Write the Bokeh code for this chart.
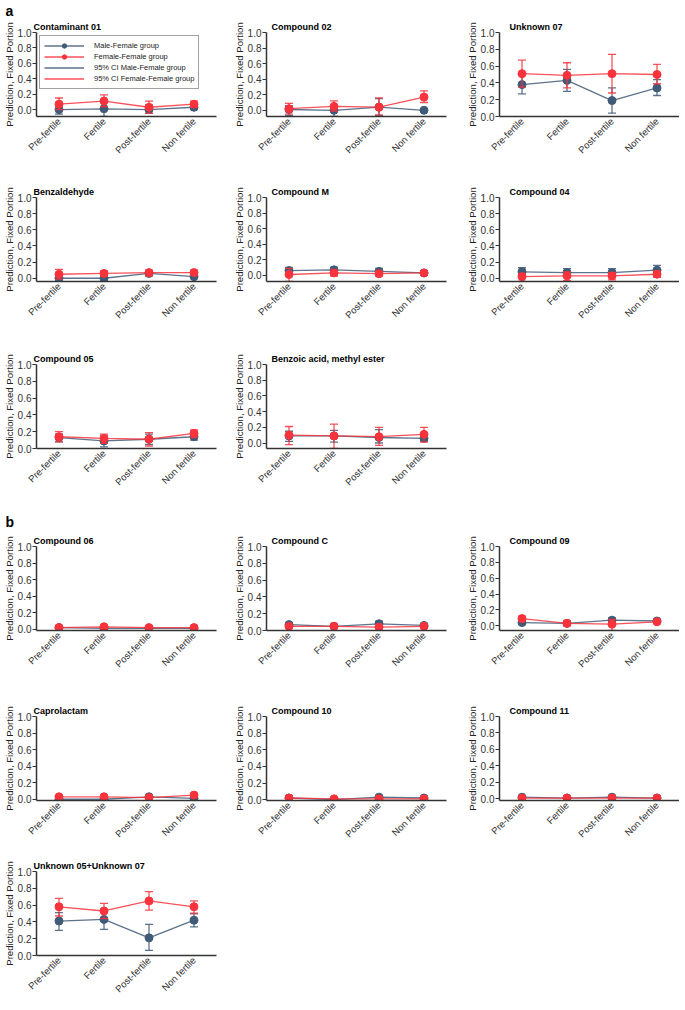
import math
from bokeh.plotting import figure
from bokeh.models import (ColumnDataSource, FactorRange, Range1d, FixedTicker,
                          PrintfTickFormatter, Title, Legend, LegendItem)
from bokeh.layouts import column, row
from bokeh.embed import file_html
from bokeh.resources import INLINE

# ---------------- data ----------------
categories = ["Pre-fertile", "Fertile", "Post-fertile", "Non fertile"]

panels_a = ["Contaminant 01", "Compound 02", "Unknown 07",
            "Benzaldehyde", "Compound M", "Compound 04",
            "Compound 05", "Benzoic acid, methyl ester"]
panels_b = ["Compound 06", "Compound C", "Compound 09",
            "Caprolactam", "Compound 10", "Compound 11",
            "Unknown 05+Unknown 07"]

# Male-Female group (prediction, lower / upper 95% CI)
mf_mean = {
    "Contaminant 01": [0.00, 0.01, 0.00, 0.03],
    "Compound 02": [0.01, 0.00, 0.04, 0.00],
    "Unknown 07": [0.38, 0.43, 0.19, 0.34],
    "Benzaldehyde": [0.00, 0.00, 0.06, 0.02],
    "Compound M": [0.06, 0.07, 0.05, 0.03],
    "Compound 04": [0.08, 0.07, 0.07, 0.10],
    "Compound 05": [0.13, 0.09, 0.11, 0.14],
    "Benzoic acid, methyl ester": [0.09, 0.09, 0.07, 0.06],
    "Compound 06": [0.02, 0.01, 0.01, 0.01],
    "Compound C": [0.07, 0.05, 0.08, 0.06],
    "Compound 09": [0.04, 0.03, 0.07, 0.06],
    "Caprolactam": [0.00, 0.00, 0.03, 0.01],
    "Compound 10": [0.02, 0.00, 0.03, 0.02],
    "Compound 11": [0.02, 0.01, 0.02, 0.01],
    "Unknown 05+Unknown 07": [0.41, 0.43, 0.21, 0.42],
}
mf_lower = {
    "Contaminant 01": [-0.06, -0.09, -0.05, 0.00],
    "Compound 02": [-0.07, -0.08, -0.07, -0.01],
    "Unknown 07": [0.27, 0.30, 0.04, 0.25],
    "Benzaldehyde": [-0.04, -0.03, 0.03, 0.00],
    "Compound M": [0.01, 0.04, 0.01, 0.02],
    "Compound 04": [0.03, 0.03, 0.02, 0.05],
    "Compound 05": [0.08, 0.02, 0.05, 0.10],
    "Benzoic acid, methyl ester": [0.02, 0.01, 0.00, 0.02],
    "Compound 06": [0.01, -0.015, 0.00, 0.00],
    "Compound C": [0.05, 0.03, 0.05, 0.04],
    "Compound 09": [0.02, 0.01, 0.04, 0.04],
    "Caprolactam": [-0.015, -0.01, 0.01, -0.01],
    "Compound 10": [0.01, -0.01, 0.02, 0.01],
    "Compound 11": [0.01, 0.00, 0.01, 0.00],
    "Unknown 05+Unknown 07": [0.30, 0.31, 0.06, 0.34],
}
mf_upper = {
    "Contaminant 01": [0.06, 0.11, 0.06, 0.06],
    "Compound 02": [0.06, 0.07, 0.15, 0.02],
    "Unknown 07": [0.50, 0.56, 0.34, 0.44],
    "Benzaldehyde": [0.04, 0.03, 0.09, 0.04],
    "Compound M": [0.10, 0.10, 0.09, 0.05],
    "Compound 04": [0.13, 0.12, 0.12, 0.16],
    "Compound 05": [0.17, 0.15, 0.17, 0.18],
    "Benzoic acid, methyl ester": [0.15, 0.16, 0.17, 0.10],
    "Compound 06": [0.03, 0.02, 0.02, 0.02],
    "Compound C": [0.09, 0.06, 0.11, 0.08],
    "Compound 09": [0.06, 0.05, 0.10, 0.07],
    "Caprolactam": [0.01, 0.02, 0.05, 0.02],
    "Compound 10": [0.03, 0.01, 0.05, 0.03],
    "Compound 11": [0.03, 0.02, 0.03, 0.02],
    "Unknown 05+Unknown 07": [0.51, 0.53, 0.37, 0.50],
}

# Female-Female group
ff_mean = {
    "Contaminant 01": [0.07, 0.11, 0.03, 0.07],
    "Compound 02": [0.02, 0.05, 0.04, 0.17],
    "Unknown 07": [0.51, 0.49, 0.51, 0.50],
    "Benzaldehyde": [0.05, 0.06, 0.07, 0.07],
    "Compound M": [0.01, 0.03, 0.02, 0.03],
    "Compound 04": [0.02, 0.03, 0.03, 0.05],
    "Compound 05": [0.14, 0.12, 0.11, 0.18],
    "Benzoic acid, methyl ester": [0.10, 0.09, 0.08, 0.11],
    "Compound 06": [0.02, 0.03, 0.02, 0.02],
    "Compound C": [0.05, 0.05, 0.04, 0.05],
    "Compound 09": [0.09, 0.03, 0.02, 0.05],
    "Caprolactam": [0.03, 0.03, 0.02, 0.05],
    "Compound 10": [0.02, 0.01, 0.01, 0.01],
    "Compound 11": [0.01, 0.01, 0.01, 0.01],
    "Unknown 05+Unknown 07": [0.58, 0.53, 0.65, 0.58],
}
ff_lower = {
    "Contaminant 01": [0.00, 0.04, -0.05, 0.03],
    "Compound 02": [-0.05, -0.01, -0.06, 0.10],
    "Unknown 07": [0.35, 0.34, 0.28, 0.39],
    "Benzaldehyde": [-0.01, 0.03, 0.03, 0.04],
    "Compound M": [-0.08, -0.01, -0.01, 0.01],
    "Compound 04": [-0.04, -0.03, -0.02, 0.01],
    "Compound 05": [0.08, 0.06, 0.03, 0.13],
    "Benzoic acid, methyl ester": [-0.02, -0.07, -0.03, 0.01],
    "Compound 06": [0.01, 0.01, 0.01, 0.01],
    "Compound C": [0.03, 0.03, 0.00, 0.03],
    "Compound 09": [0.06, 0.00, -0.06, 0.03],
    "Caprolactam": [0.01, 0.01, 0.00, 0.03],
    "Compound 10": [0.01, 0.00, 0.00, 0.00],
    "Compound 11": [0.00, 0.00, -0.02, 0.00],
    "Unknown 05+Unknown 07": [0.47, 0.44, 0.54, 0.50],
}
ff_upper = {
    "Contaminant 01": [0.15, 0.19, 0.11, 0.11],
    "Compound 02": [0.09, 0.12, 0.16, 0.25],
    "Unknown 07": [0.67, 0.64, 0.74, 0.62],
    "Benzaldehyde": [0.11, 0.09, 0.10, 0.10],
    "Compound M": [0.09, 0.07, 0.05, 0.05],
    "Compound 04": [0.06, 0.08, 0.07, 0.09],
    "Compound 05": [0.20, 0.17, 0.19, 0.22],
    "Benzoic acid, methyl ester": [0.21, 0.24, 0.20, 0.20],
    "Compound 06": [0.04, 0.04, 0.03, 0.04],
    "Compound C": [0.07, 0.06, 0.07, 0.07],
    "Compound 09": [0.12, 0.06, 0.08, 0.07],
    "Caprolactam": [0.05, 0.05, 0.04, 0.07],
    "Compound 10": [0.03, 0.02, 0.02, 0.02],
    "Compound 11": [0.02, 0.02, 0.02, 0.02],
    "Unknown 05+Unknown 07": [0.68, 0.62, 0.76, 0.65],
}

y_ticks = [0.0, 0.2, 0.4, 0.6, 0.8, 1.0]
y_label = "Prediction, Fixed Portion"
legend_labels = ["Male-Female group", "Female-Female group",
                 "95% CI Male-Female group", "95% CI Female-Female group"]

# ---------------- style ----------------
BLUE = "#3F5B78"
RED = "#F8333C"
FONT = "Liberation Sans"
AXIS = "#333333"

LEFT = 32
RIGHT = [14, 17, 0]
TITLE_OFFSET = [-3, 5, 10]
FRAME_W = 180
FRAME_H = 84


def make_panel(name, col, top, bottom, tag=None, tag_standoff=0, legend=False):
    lows = mf_lower[name] + ff_lower[name]
    y0 = min(0.0, min(lows))
    p = figure(x_range=FactorRange(*categories), y_range=Range1d(y0, 1.0),
               frame_width=FRAME_W, frame_height=FRAME_H,
               min_border_left=LEFT, min_border_right=RIGHT[col],
               min_border_top=top, min_border_bottom=bottom,
               output_backend="svg", toolbar_location=None, title=None)
    p.outline_line_color = None
    p.xgrid.grid_line_color = None
    p.ygrid.grid_line_color = None
    p.background_fill_color = "white"
    p.border_fill_color = "white"

    p.add_layout(Title(text=name, align="left", offset=TITLE_OFFSET[col],
                       text_font=FONT, text_font_size="9px",
                       text_font_style="bold", text_color="black",
                       standoff=2), "above")
    if tag is not None:
        p.add_layout(Title(text=tag, align="left", offset=-31,
                           text_font=FONT, text_font_size="14px",
                           text_font_style="bold", text_color="black",
                           standoff=tag_standoff), "above")

    # axes
    for ax in (p.xaxis[0], p.yaxis[0]):
        ax.axis_line_color = AXIS
        ax.axis_line_width = 1.5
        ax.major_label_text_font = FONT
        ax.major_label_text_color = AXIS
        ax.minor_tick_line_color = None
    xa = p.xaxis[0]
    xa.major_label_orientation = math.pi / 4
    xa.major_tick_out = 0
    xa.major_tick_in = 0
    xa.major_label_standoff = 3
    xa.major_label_text_font_size = "9.5px"

    ya = p.yaxis[0]
    ya.ticker = FixedTicker(ticks=y_ticks)
    ya.formatter = PrintfTickFormatter(format="%.1f")
    ya.major_tick_out = 4
    ya.major_tick_in = 0
    ya.major_tick_line_color = AXIS
    ya.major_label_standoff = 1
    ya.major_label_text_font_size = "10px"
    ya.axis_label = y_label
    ya.axis_label_standoff = 0
    ya.axis_label_text_font = FONT
    ya.axis_label_text_font_size = "9.6px"
    ya.axis_label_text_font_style = "normal"
    ya.axis_label_text_color = "#222222"

    rend = {}
    for key, color, mean, lo, hi in (("mf", BLUE, mf_mean, mf_lower, mf_upper),
                                     ("ff", RED, ff_mean, ff_lower, ff_upper)):
        src = ColumnDataSource(dict(x=categories, y=mean[name],
                                    lo=lo[name], hi=hi[name]))
        seg = p.segment(x0="x", y0="lo", x1="x", y1="hi", source=src,
                        line_color=color, line_width=1.3, line_alpha=0.85)
        p.scatter(x="x", y="lo", source=src, marker="dash", size=8,
                  line_color=color, line_width=1.3, line_alpha=0.85)
        p.scatter(x="x", y="hi", source=src, marker="dash", size=8,
                  line_color=color, line_width=1.3, line_alpha=0.85)
        ln = p.line(x="x", y="y", source=src, line_color=color,
                    line_width=1.3, line_alpha=0.85)
        pts = p.scatter(x="x", y="y", source=src, marker="circle", size=8,
                        fill_color=color, line_color=color)
        rend[key] = (seg, ln, pts)

    if legend:
        items = [
            LegendItem(label=legend_labels[0], renderers=[rend["mf"][1], rend["mf"][2]]),
            LegendItem(label=legend_labels[1], renderers=[rend["ff"][1], rend["ff"][2]]),
            LegendItem(label=legend_labels[2], renderers=[rend["mf"][0]]),
            LegendItem(label=legend_labels[3], renderers=[rend["ff"][0]]),
        ]
        leg = Legend(items=items, location="top_left",
                     label_text_font=FONT, label_text_font_size="7.5px",
                     label_text_color="#222222",
                     glyph_width=40, glyph_height=11, label_height=11,
                     label_standoff=10, spacing=0, padding=4, margin=3,
                     border_line_color="#444444", border_line_width=1,
                     background_fill_color="white", background_fill_alpha=1)
        p.add_layout(leg)
    return p


# rows: (names, top border, bottom border, tag, tag standoff)
row_specs = [
    (panels_a[0:3], 30, 63, "a", 0),
    (panels_a[3:6], 18, 65, None, 0),
    (panels_a[6:8], 18, 61, None, 0),
    (panels_b[0:3], 34, 68, "b", 5),
    (panels_b[3:6], 18, 55, None, 0),
    (panels_b[6:7], 16, 42, None, 0),
]

rows = []
for names, top, bottom, tag, tso in row_specs:
    figs = []
    for c, nm in enumerate(names):
        figs.append(make_panel(nm, c, top, bottom,
                               tag=tag if c == 0 else None, tag_standoff=tso,
                               legend=(nm == "Contaminant 01")))
    rows.append(row(*figs))

layout = column(*rows)

open("out.html", "w").write(file_html(layout, INLINE))
